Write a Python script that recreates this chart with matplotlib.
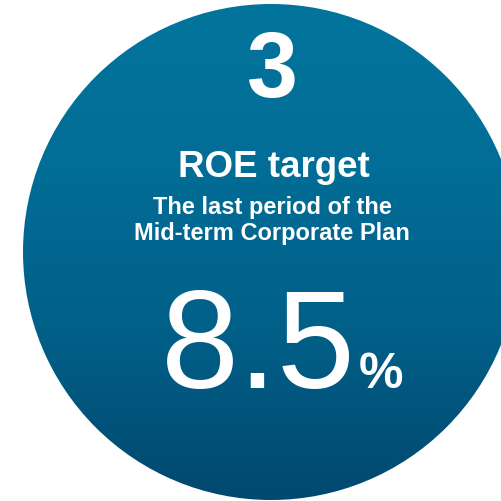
import numpy as np
import matplotlib
matplotlib.use("Agg")
import matplotlib.pyplot as plt
from matplotlib.patches import Circle
from matplotlib.colors import LinearSegmentedColormap

# Content of the badge
badge_number = "3"
title = "ROE target"
subtitle_lines = ["The last period of the", "Mid-term Corporate Plan"]
roe_target = 8.5
unit = "%"

W, H = 502, 501
fig = plt.figure(figsize=(W / 100, H / 100), dpi=100)
ax = fig.add_axes([0, 0, 1, 1])
ax.set_xlim(0, W)
ax.set_ylim(H, 0)
ax.axis("off")

cx, cy, r = 271, 252, 248

# vertical blue gradient clipped to the circle
cmap = LinearSegmentedColormap.from_list(
    "blue_grad", ["#03759d", "#026d96", "#015f88", "#01486f"])
grad = np.linspace(0, 1, 512).reshape(-1, 1)
im = ax.imshow(grad, cmap=cmap, extent=(cx - r, cx + r, cy + r, cy - r),
               aspect="auto", interpolation="bicubic", zorder=1)
clip = Circle((cx, cy), r, transform=ax.transData, facecolor="none",
              edgecolor="none")
ax.add_patch(clip)
im.set_clip_path(clip)

font = "Liberation Sans"
ax.text(272, 97, badge_number, ha="center", va="baseline", color="white",
        fontsize=66, fontweight="bold", family=font, zorder=3)
ax.text(274, 177, title, ha="center", va="baseline", color="white",
        fontsize=26.5, fontweight="bold", family=font, zorder=3)
ax.text(272, 214, subtitle_lines[0], ha="center", va="baseline",
        color="white", fontsize=17, fontweight="bold", family=font, zorder=3)
ax.text(272, 240, subtitle_lines[1], ha="center", va="baseline",
        color="white", fontsize=17, fontweight="bold", family=font, zorder=3)

ax.text(161, 388, f"{roe_target:.1f}", ha="left", va="baseline",
        color="white", fontsize=101, family=font, zorder=3)
ax.text(359, 388, unit, ha="left", va="baseline", color="white",
        fontsize=36, fontweight="bold", family=font, zorder=3)

fig.savefig("out.png", dpi=100, facecolor="white")
